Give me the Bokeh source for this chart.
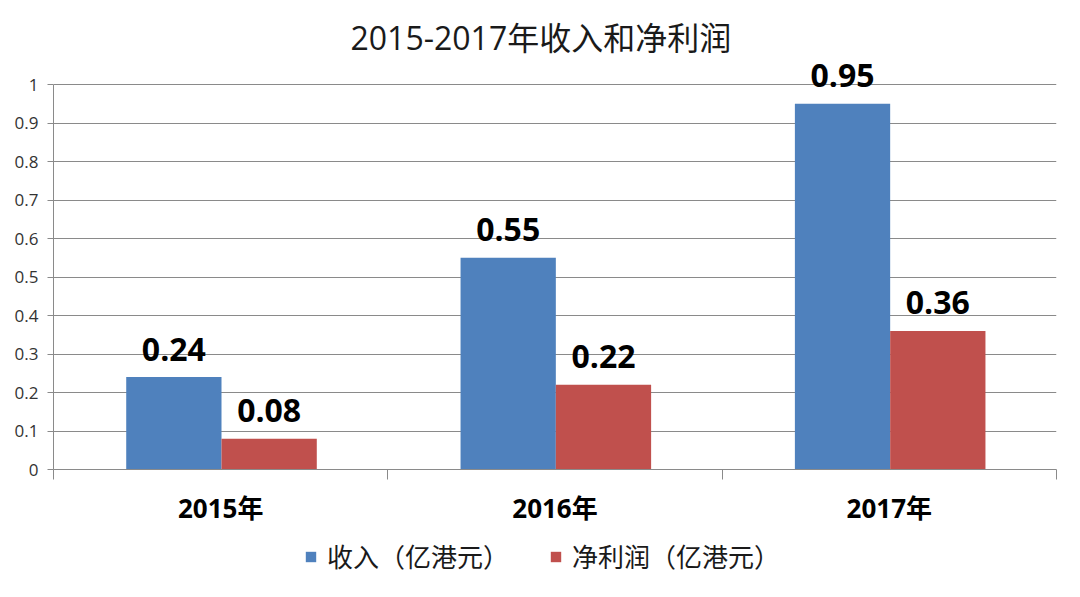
from bokeh.plotting import figure
from bokeh.models import (ColumnDataSource, Range1d, FixedTicker, CustomJSTickFormatter,
                          Legend, LegendItem)
from bokeh.layouts import column
from bokeh.core.properties import value
from bokeh.embed import file_html
from bokeh.resources import INLINE
import numpy as np

# ---- data ----
years = ["2015年", "2016年", "2017年"]
revenue = [0.24, 0.55, 0.95]
net_profit = [0.08, 0.22, 0.36]
series_names = ["收入（亿港元）", "净利润（亿港元）"]
y_ticks = [0, 0.1, 0.2, 0.3, 0.4, 0.5, 0.6, 0.7, 0.8, 0.9, 1]
y_tick_labels = ["0", "0.1", "0.2", "0.3", "0.4", "0.5", "0.6", "0.7", "0.8", "0.9", "1"]
title_text = "2015-2017年收入和净利润"

BLUE = "#4F81BD"
RED = "#C0504D"
GRID = "#8A8A8A"
LATIN = "Open Sans"
CJK = "Open Sans, Noto Sans CJK SC"

idx = np.arange(len(years))
centers = list(idx + 0.5)
bar_w = 0.285
x_rev = idx + 0.36
x_np = idx + 0.645

src_rev = ColumnDataSource(dict(x=x_rev, top=revenue, label=[f"{v:.2f}" for v in revenue]))
src_np = ColumnDataSource(dict(x=x_np, top=net_profit, label=[f"{v:.2f}" for v in net_profit]))

W = 1064
H1 = 530
H2 = 51
FRAME_TOP = 58
FRAME_BOTTOM = 469
PX_PER_UNIT = 385.0
y_max = y_ticks[-1]
y_end = (FRAME_BOTTOM - FRAME_TOP) / PX_PER_UNIT

p = figure(width=W, height=H1, output_backend="svg", toolbar_location=None,
           x_range=Range1d(0, len(years)), y_range=Range1d(0, y_end),
           min_border_left=53, min_border_right=8, min_border_top=FRAME_TOP,
           min_border_bottom=H1 - FRAME_BOTTOM)
p.outline_line_color = None
p.background_fill_color = "white"
p.border_fill_color = "white"

p.vbar(x="x", top="top", width=bar_w, bottom=0, source=src_rev, fill_color=BLUE, line_color=None)
p.vbar(x="x", top="top", width=bar_w, bottom=0, source=src_np, fill_color=RED, line_color=None)

for s in (src_rev, src_np):
    p.text(x="x", y="top", text="label", source=s, text_font=value(LATIN), text_font_style="bold",
           text_font_size="32px", text_align="center", text_baseline="alphabetic", y_offset=-28,
           text_color="black")

# title
p.title.text = title_text
p.title.align = "left"
p.title.offset = 297
p.title.text_font = CJK
p.title.text_font_size = "32px"
p.title.text_font_style = "normal"
p.title.text_color = "#1a1a1a"
p.title.standoff = 0

# y axis
p.yaxis.bounds = (0, y_max)
p.yaxis.ticker = FixedTicker(ticks=y_ticks)
p.yaxis.formatter = CustomJSTickFormatter(args=dict(t=y_ticks, l=y_tick_labels),
                                          code="const i = t.findIndex(v => Math.abs(v - tick) < 1e-9); return i >= 0 ? l[i] : '';")
p.yaxis.axis_line_color = GRID
p.yaxis.major_tick_line_color = GRID
p.yaxis.major_tick_out = 6
p.yaxis.major_tick_in = 0
p.yaxis.minor_tick_line_color = None
p.yaxis.major_label_text_font = LATIN
p.yaxis.major_label_text_font_size = "17px"
p.yaxis.major_label_text_color = "#333333"
p.yaxis.major_label_standoff = 9

# x axis
p.xaxis.ticker = FixedTicker(ticks=centers, minor_ticks=list(range(len(years) + 1)))
p.xaxis.formatter = CustomJSTickFormatter(args=dict(t=centers, l=years),
                                          code="const i = t.findIndex(v => Math.abs(v - tick) < 1e-9); return i >= 0 ? l[i] : '';")
p.xaxis.axis_line_color = GRID
p.xaxis.major_tick_line_color = None
p.xaxis.major_tick_out = 0
p.xaxis.major_tick_in = 0
p.xaxis.minor_tick_line_color = GRID
p.xaxis.minor_tick_out = 10
p.xaxis.minor_tick_in = 0
p.xaxis.major_label_text_font = CJK
p.xaxis.major_label_text_font_style = "bold"
p.xaxis.major_label_text_font_size = "26px"
p.xaxis.major_label_text_color = "black"
p.xaxis.major_label_standoff = 10

p.xgrid.grid_line_color = None
p.ygrid.grid_line_color = GRID
p.ygrid.ticker = FixedTicker(ticks=y_ticks)

# legend strip (separate figure so that nothing is clipped)
q = figure(width=W, height=H2, output_backend="svg", toolbar_location=None,
           x_range=Range1d(0, 1), y_range=Range1d(0, 1),
           x_axis_location=None, y_axis_location=None,
           min_border_left=0, min_border_right=0, min_border_top=0, min_border_bottom=0)
q.outline_line_color = None
q.grid.visible = False
q.background_fill_color = "white"
q.border_fill_color = "white"
# legend proxies: one bar each, placed outside the visible range
proxy = dict(x=[-5], top=[0])
g1 = q.vbar(x="x", top="top", width=0.1, source=ColumnDataSource(proxy), fill_color=BLUE, line_color=None)
g2 = q.vbar(x="x", top="top", width=0.1, source=ColumnDataSource(proxy), fill_color=RED, line_color=None)

legend = Legend(items=[LegendItem(label=series_names[0], renderers=[g1]),
                       LegendItem(label=series_names[1], renderers=[g2])],
                orientation="horizontal", location=(251, 6),
                label_text_font=CJK, label_text_font_size="26px", label_text_color="#1a1a1a",
                glyph_width=13, glyph_height=13, label_standoff=10, spacing=40,
                border_line_color=None, background_fill_alpha=0, margin=0, padding=6)
q.add_layout(legend, "center")

layout = column(p, q, spacing=0)
open("out.html", "w").write(file_html(layout, INLINE))
